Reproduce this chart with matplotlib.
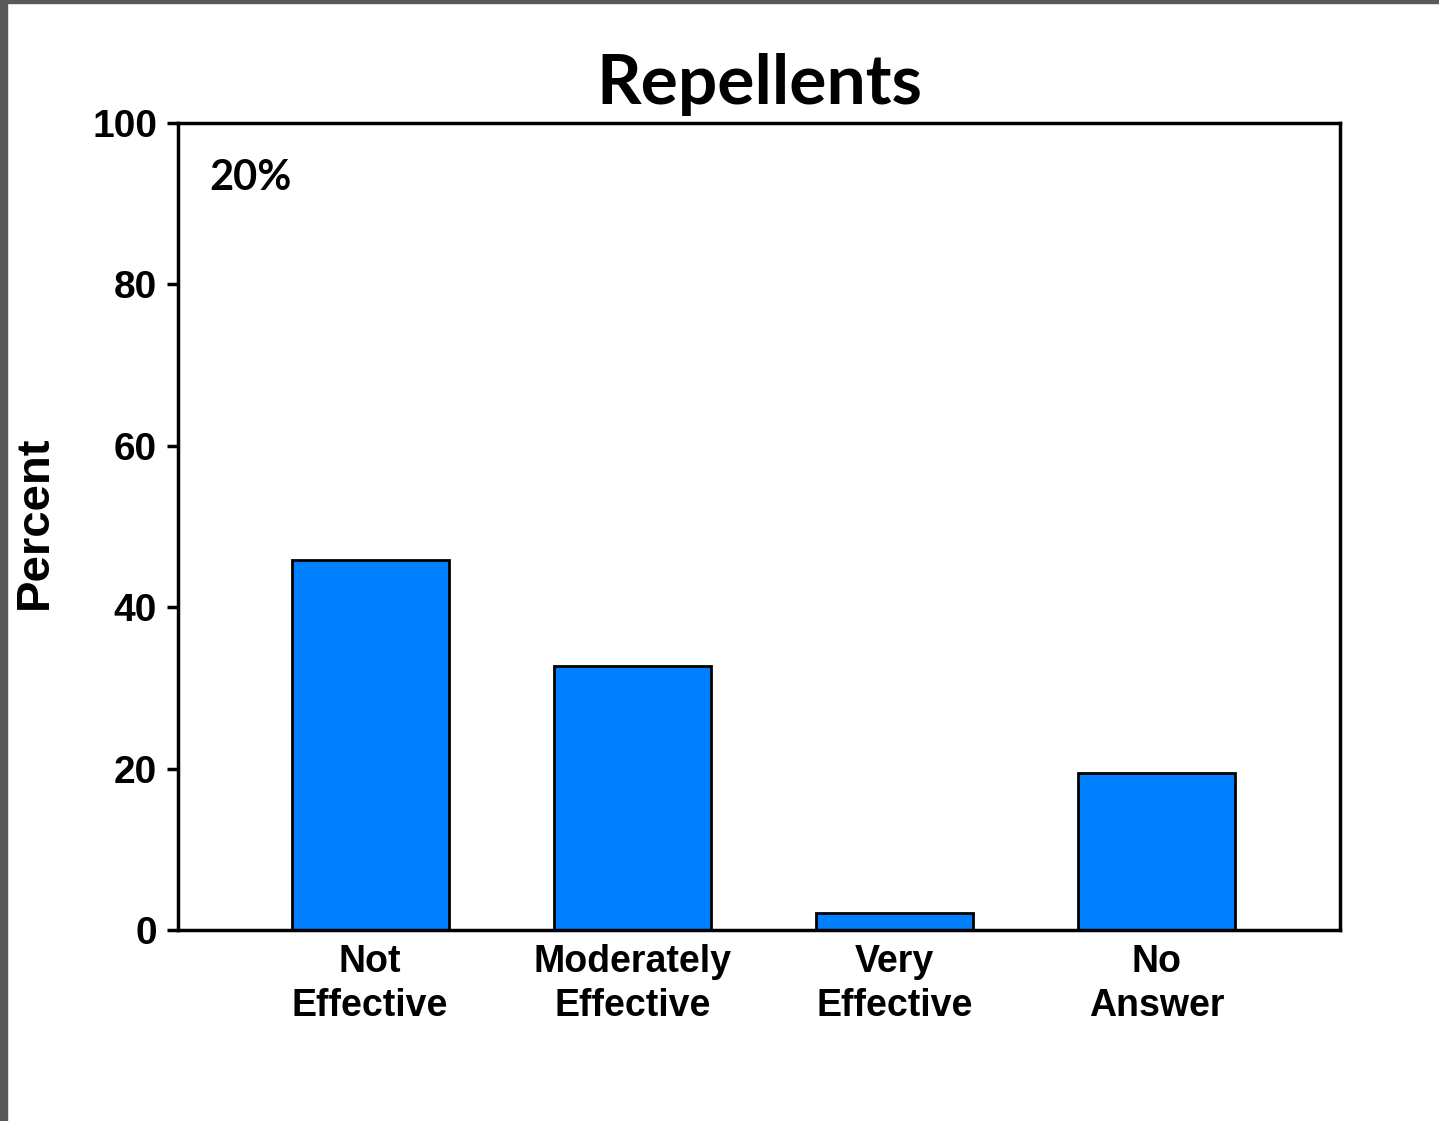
import matplotlib.pyplot as plt
from matplotlib.patches import Rectangle

categories = ["Not\nEffective", "Moderately\nEffective", "Very\nEffective", "No\nAnswer"]
percents = [45.8, 32.7, 2.1, 19.5]
yticks = [0, 20, 40, 60, 80, 100]

BAR_COLOR = "#0080ff"
ARIAL = "Liberation Sans"
CALIBRI = "Lato"

fig = plt.figure(figsize=(14.39, 11.21), dpi=100)
ax = fig.add_axes([0.1237, 0.1704, 0.8075, 0.7199])

x = range(len(categories))
ax.bar(x, percents, width=0.6, color=BAR_COLOR, edgecolor="black", linewidth=2.0, zorder=2)

ax.set_xlim(-0.733, 3.70)
ax.set_ylim(0, 100)
ax.set_yticks(yticks)
ax.set_xticks(list(x))
ax.set_xticklabels(categories, fontfamily=ARIAL, fontweight="bold", fontsize=27,
                   linespacing=1.3)
ax.set_yticklabels([str(v) for v in yticks], fontfamily=ARIAL, fontweight="bold", fontsize=28)
ax.tick_params(axis="x", length=0, pad=10)
ax.tick_params(axis="y", length=8, width=2.5, pad=7)

for s in ax.spines.values():
    s.set_linewidth(2.5)
    s.set_color("black")

ax.set_ylabel("Percent", fontfamily=ARIAL, fontweight="bold", fontsize=34)
ax.yaxis.set_label_coords(-0.104, 0.505)
ax.set_title("Repellents", fontfamily=CALIBRI, fontweight="bold", fontsize=50, pad=14)
ax.text(0.027, 0.955, "20%", transform=ax.transAxes, fontfamily=CALIBRI, fontweight="bold",
        fontsize=30, va="top", ha="left")

# gray frame edges from the original screenshot
fig.patches.append(Rectangle((0, 0), 0.005, 1, transform=fig.transFigure, color="#595959", zorder=0))
fig.patches.append(Rectangle((0, 0.997), 1, 0.003, transform=fig.transFigure, color="#595959", zorder=0))

fig.savefig("out.png", dpi=100)
